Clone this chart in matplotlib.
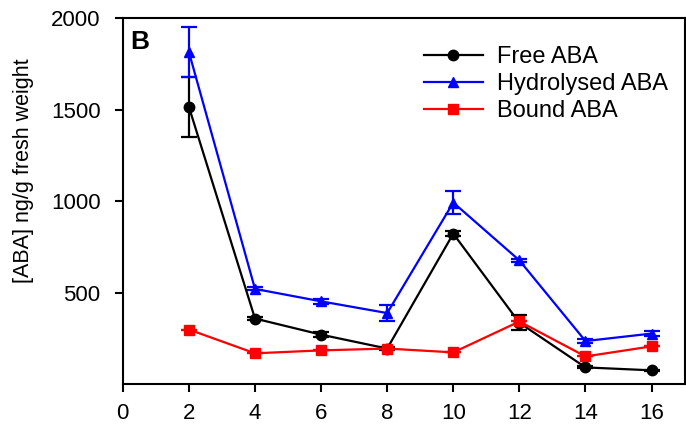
import matplotlib
matplotlib.use('Agg')
import matplotlib.pyplot as plt

plt.rcParams['font.family'] = ['Liberation Sans', 'DejaVu Sans']

# time points
days = [2, 4, 6, 8, 10, 12, 14, 16]

free_aba = [1515, 358, 270, 194, 822, 335, 91, 75]
free_err = [165, 10, 15, 8, 12, 40, 5, 4]

hydro_aba = [1815, 520, 452, 388, 992, 676, 235, 276]
hydro_err = [135, 8, 12, 42, 62, 10, 10, 12]

bound_aba = [298, 168, 184, 194, 173, 342, 151, 206]
bound_err = [0, 0, 0, 0, 0, 0, 0, 0]

fig = plt.figure(figsize=(6.86, 4.32), dpi=100)
ax = fig.add_axes([0.179, 0.111, 0.819, 0.847])

kw = dict(lw=1.6, ms=7.5, capsize=5.5, elinewidth=1.6, capthick=1.6)
ax.errorbar(days, free_aba, yerr=free_err, color='black', marker='o', label='Free ABA', **kw)
ax.errorbar(days, hydro_aba, yerr=hydro_err, color='#0000ff', marker='^', label='Hydrolysed ABA', **kw)
ax.errorbar(days, bound_aba, yerr=bound_err, color='#ff0000', marker='s', label='Bound ABA', **kw)

ax.set_xlim(0, 17)
ax.set_ylim(0, 2000)
ax.set_xticks([0, 2, 4, 6, 8, 10, 12, 14, 16])
ax.set_yticks([500, 1000, 1500, 2000])
ax.tick_params(direction='out', length=6, width=1.5, labelsize=16)
ax.tick_params(axis='x', pad=8)
ax.tick_params(axis='y', pad=10)
for s in ax.spines.values():
    s.set_linewidth(1.5)
ax.set_ylabel('[ABA] ng/g fresh weight', fontsize=15.5)
ax.yaxis.set_label_coords(-0.158, 0.582)

ax.text(0.013, 0.968, 'B', transform=ax.transAxes, fontsize=19, fontweight='bold',
        va='top', ha='left')

handles, labels = ax.get_legend_handles_labels()
handles = [h[0] for h in handles]
ax.legend(handles, labels, loc='upper left', frameon=False, fontsize=17,
          handlelength=2.5, handletextpad=0.6, labelspacing=0.21, borderpad=0,
          borderaxespad=0, bbox_to_anchor=(0.536, 0.924))

fig.savefig('out.png', dpi=100)
